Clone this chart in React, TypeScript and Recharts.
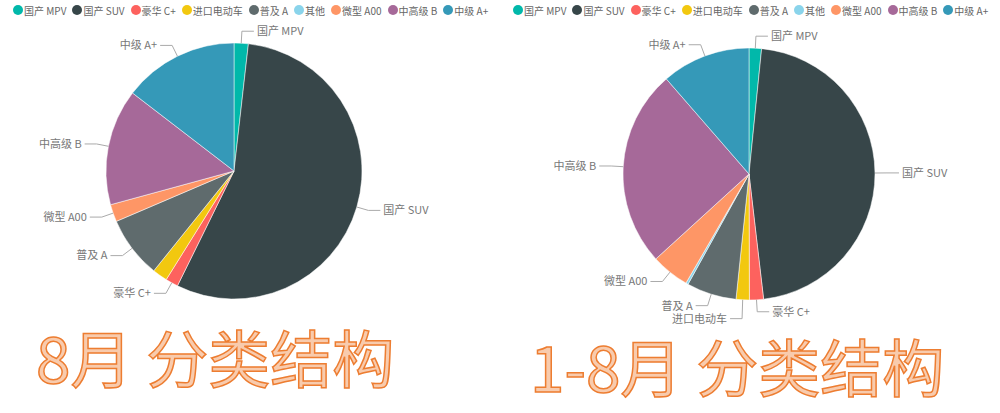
import { PieChart, Pie, Cell, Legend } from 'recharts';

const categories = ['国产 MPV', '国产 SUV', '豪华 C+', '进口电动车', '普及 A', '其他', '微型 A00', '中高级 B', '中级 A+'];
const augustShares = [1.8, 55.6, 1.6, 1.9, 7.8, 0, 2.2, 14.7, 14.6];
const ytdShares = [1.6, 46.6, 1.8, 1.7, 6.4, 0.3, 4.9, 25.4, 11.4];
const colors = ['#01B8AA', '#374649', '#FD625E', '#F2C80F', '#5F6B6D', '#8AD4EB', '#FE9666', '#A66999', '#3599B8'];

const FONT = '"Noto Sans CJK SC", "Noto Sans", sans-serif';
const RADIAN = Math.PI / 180;
const LEG = 20;
const SEG1 = 12;
const SEG2 = 12;

const toRows = (values: number[]) => categories.map((name, i) => ({ name, value: values[i] }));

// push labels apart on each side so they don't overlap
function labelLayout(values: number[], cy: number, r: number, hidden: string[]) {
  const total = values.reduce((a, b) => a + b, 0);
  let acc = 0;
  const items = values.map((v, i) => {
    const mid = ((acc + v / 2) / total) * 360 * RADIAN;
    acc += v;
    return {
      i,
      y: cy - (r + SEG1) * Math.cos(mid),
      right: Math.sin(mid) >= 0,
      show: v > 0 && !hidden.includes(categories[i]),
    };
  });
  const shifts = values.map(() => 0);
  [true, false].forEach((side) => {
    let last = -Infinity;
    items
      .filter((d) => d.show && d.right === side)
      .sort((p, q) => p.y - q.y)
      .forEach((d) => {
        const y = Math.max(d.y, last + 13);
        shifts[d.i] = y - d.y;
        last = y;
      });
  });
  return { shifts, show: items.map((d) => d.show) };
}

const makeLabel = (layout: { shifts: number[]; show: boolean[] }) => (props: any) => {
  const { cx, cy, midAngle, outerRadius, index } = props;
  if (!layout.show[index]) return null;
  const c = Math.cos(-midAngle * RADIAN);
  const s = Math.sin(-midAngle * RADIAN);
  const sx = cx + outerRadius * c;
  const sy = cy + outerRadius * s;
  const mx = cx + (outerRadius + SEG1) * c;
  const my = cy + (outerRadius + SEG1) * s + layout.shifts[index];
  const right = c >= 0;
  const ex = mx + (right ? SEG2 : -SEG2);
  return (
    <g key={`lbl-${index}`}>
      <polyline points={`${sx},${sy} ${mx},${my} ${ex},${my}`} fill="none" stroke="#aaa" strokeWidth={1} />
      <text x={ex + (right ? 3 : -3)} y={my} dy="0.35em" textAnchor={right ? 'start' : 'end'} fill="#777" fontSize={11} fontFamily={FONT}>
        {categories[index]}
      </text>
    </g>
  );
};

const LegendRow = () => (
  <div style={{ display: 'flex', alignItems: 'center', height: LEG, paddingLeft: 13, fontFamily: FONT, fontSize: 10, color: '#666', whiteSpace: 'nowrap' }}>
    {categories.map((name, i) => (
      <span key={name} style={{ display: 'flex', alignItems: 'center', marginRight: 6 }}>
        <span style={{ width: 10, height: 10, borderRadius: 5, background: colors[i], marginRight: 1 }} />
        {name}
      </span>
    ))}
  </div>
);

function SharePie({ values, cx, cy, r, hidden }: { values: number[]; cx: number; cy: number; r: number; hidden: string[] }) {
  const layout = labelLayout(values, cy, r, hidden);
  return (
    <PieChart width={500} height={330} margin={{ top: 0, right: 0, bottom: 0, left: 0 }}>
      <Legend verticalAlign="top" align="left" content={() => <LegendRow />} />
      <Pie
        data={toRows(values)}
        dataKey="value"
        nameKey="name"
        cx={cx}
        cy={cy - LEG}
        outerRadius={r}
        startAngle={90}
        endAngle={-270}
        stroke="#fff"
        strokeWidth={0.5}
        label={makeLabel(layout)}
        labelLine={false}
        isAnimationActive={false}
      >
        {values.map((_, i) => (
          <Cell key={categories[i]} fill={colors[i]} />
        ))}
      </Pie>
    </PieChart>
  );
}

export default function App() {
  const titleStyle = { fontFamily: FONT, fontSize: 62, fill: '#F8CBAD', stroke: '#ED7D31', strokeWidth: 1.5 };
  return (
    <div style={{ position: 'absolute', left: 0, top: 0, width: 1000, height: 413, background: '#fff', overflow: 'hidden' }}>
      <div style={{ position: 'absolute', left: 0, top: 0 }}>
        <SharePie values={augustShares} cx={234} cy={171} r={128} hidden={['进口电动车']} />
      </div>
      <div style={{ position: 'absolute', left: 500, top: 0 }}>
        <SharePie values={ytdShares} cx={249} cy={174} r={126} hidden={['其他']} />
      </div>
      <svg width={1000} height={413} style={{ position: 'absolute', left: 0, top: 0, pointerEvents: 'none' }}>
        <text x={36} y={383} {...titleStyle}>8月 分类结构</text>
        <text x={530} y={392} {...titleStyle}>1-8月 分类结构</text>
      </svg>
    </div>
  );
}
